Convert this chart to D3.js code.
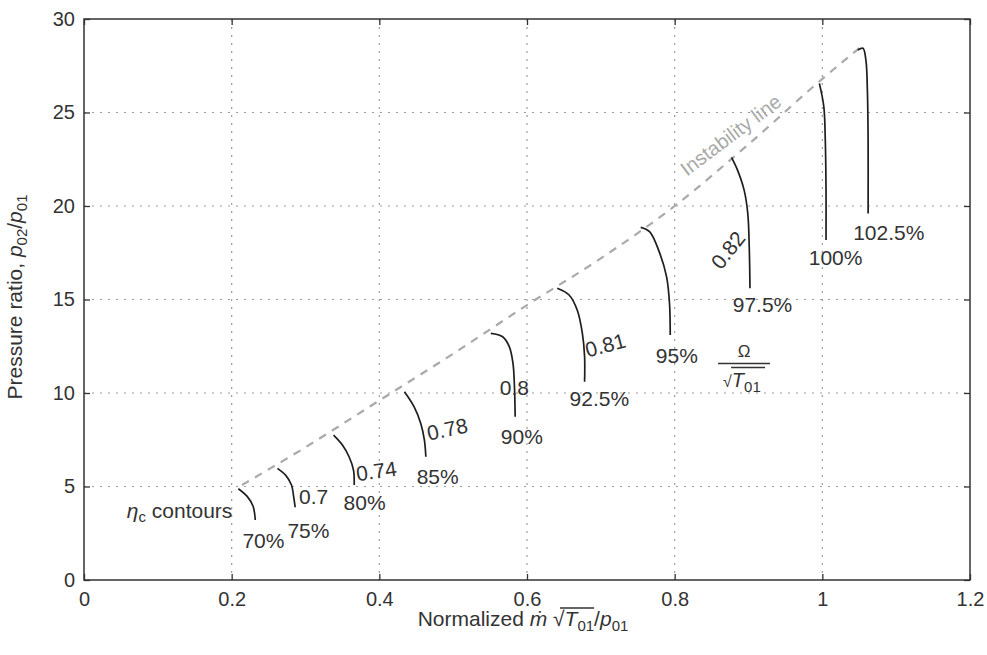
<!DOCTYPE html>
<html><head><meta charset="utf-8">
<script src="https://cdn.jsdelivr.net/npm/d3@7/dist/d3.min.js"></script>
<style>
body{margin:0;background:#fff}
svg{display:block}
text{font-family:"Liberation Sans",Arial,Helvetica,sans-serif}
</style>
</head><body>
<svg id="chart" width="987" height="655"></svg>
<script>
// ---------- data ----------
const xTicks = [0, 0.2, 0.4, 0.6, 0.8, 1, 1.2];
const xTickLabels = ["0", "0.2", "0.4", "0.6", "0.8", "1", "1.2"];
const yTicks = [0, 5, 10, 15, 20, 25, 30];
const yTickLabels = ["0", "5", "10", "15", "20", "25", "30"];

// corrected speed lines (Omega / sqrt(T01)), points [mass flow, pressure ratio]
const speedNames = ["70%", "75%", "80%", "85%", "90%", "92.5%", "95%", "97.5%", "100%", "102.5%"];
const speed70  = [[0.209,4.88],[0.221,4.47],[0.229,3.94],[0.232,3.21]];
const speed75  = [[0.262,5.97],[0.273,5.61],[0.281,5.08],[0.284,4.45],[0.286,3.89]];
const speed80  = [[0.338,7.75],[0.350,7.22],[0.359,6.59],[0.365,5.88],[0.366,5.08]];
const speed85  = [[0.434,10.07],[0.447,9.27],[0.456,8.38],[0.461,7.49],[0.463,6.59]];
const speed90  = [[0.551,13.19],[0.567,13.01],[0.576,12.48],[0.581,11.59],[0.583,10.34],[0.584,8.73]];
const speed925 = [[0.641,15.60],[0.657,15.24],[0.668,14.44],[0.675,13.19],[0.678,11.95],[0.678,10.60]];
const speed95  = [[0.754,18.86],[0.766,18.63],[0.779,17.56],[0.789,16.22],[0.793,14.80],[0.794,13.10]];
const speed975 = [[0.877,22.60],[0.885,21.93],[0.894,20.86],[0.899,19.61],[0.901,17.82],[0.902,15.60]];
const speed100 = [[0.996,26.56],[1.002,25.31],[1.004,23.53],[1.005,20.86],[1.005,18.18]];
const speed1025= [[1.048,28.34],[1.055,28.43],[1.059,27.80],[1.061,26.20],[1.062,23.53],[1.062,19.60]];
const speedLines = [speed70, speed75, speed80, speed85, speed90, speed925, speed95, speed975, speed100, speed1025];
const speedLabelAt = [[0.243,2.09],[0.304,2.67],[0.380,4.17],[0.479,5.51],[0.593,7.65],[0.698,9.68],[0.803,12.03],[0.919,14.71],[1.018,17.22],[1.090,18.56]];

// efficiency contour values
const effNames = ["0.7", "0.74", "0.78", "0.8", "0.81", "0.82"];
const effLabelAt = [[0.311,4.44],[0.396,5.83],[0.492,8.07],[0.583,10.27],[0.706,12.57],[0.872,17.65]];
const effAngle = [0, -8, -12, 0, -15, -52];

// instability (surge) line
const instX = [0.214, 0.3, 0.4, 0.5, 0.6, 0.7, 0.8, 0.9, 1.0, 1.055];
const instY = [5.08, 7.1, 9.6, 12.1, 14.7, 17.2, 20.0, 23.3, 26.8, 28.6];

// ---------- chart ----------
const W = 987, H = 655;
const svg = d3.select("#chart");
const x = d3.scaleLinear().domain([0, 1.2]).range([84, 970]);
const y = d3.scaleLinear().domain([0, 30]).range([580, 19]);
const ink = "#333";

// grid
const grid = svg.append("g").attr("stroke", "#9c9c9c").attr("stroke-width", 1.2).attr("stroke-dasharray", "2,6");
grid.selectAll(".gx").data(xTicks.slice(1, -1)).join("line")
  .attr("x1", d => x(d)).attr("x2", d => x(d)).attr("y1", y(30)).attr("y2", y(0));
grid.selectAll(".gy").data(yTicks.slice(1, -1)).join("line")
  .attr("x1", x(0)).attr("x2", x(1.2)).attr("y1", d => y(d)).attr("y2", d => y(d));

// axes
function styleAxis(g) {
  g.selectAll(".domain").remove();
  g.selectAll(".tick line").attr("stroke", ink).attr("stroke-width", 1.3);
  g.selectAll(".tick text").attr("fill", ink).attr("font-size", 20)
    .attr("font-family", '"Liberation Sans",Arial,sans-serif');
}
svg.append("g").attr("transform", `translate(0,${y(0)})`)
  .call(d3.axisBottom(x).tickValues(xTicks).tickSize(-6).tickSizeOuter(0).tickPadding(12)
    .tickFormat((d, i) => xTickLabels[i])).call(styleAxis);
svg.append("g").attr("transform", `translate(${x(0)},0)`)
  .call(d3.axisLeft(y).tickValues(yTicks).tickSize(-6).tickSizeOuter(0).tickPadding(9)
    .tickFormat((d, i) => yTickLabels[i])).call(styleAxis);
svg.append("g").attr("transform", `translate(0,${y(30)})`)
  .call(d3.axisTop(x).tickValues(xTicks).tickSize(-6).tickSizeOuter(0).tickFormat("")).call(styleAxis);
svg.append("g").attr("transform", `translate(${x(1.2)},0)`)
  .call(d3.axisRight(y).tickValues(yTicks).tickSize(-6).tickSizeOuter(0).tickFormat("")).call(styleAxis);

svg.append("rect").attr("x", x(0)).attr("y", y(30))
  .attr("width", x(1.2) - x(0)).attr("height", y(0) - y(30))
  .attr("fill", "none").attr("stroke", ink).attr("stroke-width", 1.5);

// instability line
const line = d3.line().x(d => x(d[0])).y(d => y(d[1]));
svg.append("path").datum(instX.map((v, i) => [v, instY[i]]))
  .attr("d", line.curve(d3.curveMonotoneX))
  .attr("fill", "none").attr("stroke", "#aaa").attr("stroke-width", 2.2)
  .attr("stroke-dasharray", "8,7");

// speed lines
const curveLine = d3.line().x(d => x(d[0])).y(d => y(d[1])).curve(d3.curveCatmullRom.alpha(0.5));
svg.append("g").selectAll("path").data(speedLines).join("path")
  .attr("d", curveLine).attr("fill", "none").attr("stroke", "#1e1e1e").attr("stroke-width", 1.7);

// speed labels
svg.append("g").selectAll("text").data(speedNames).join("text")
  .attr("x", (d, i) => x(speedLabelAt[i][0])).attr("y", (d, i) => y(speedLabelAt[i][1]))
  .attr("text-anchor", "middle").attr("dominant-baseline", "central")
  .attr("font-size", 21).attr("fill", ink).text(d => d);

// efficiency labels
svg.append("g").selectAll("text").data(effNames).join("text")
  .attr("transform", (d, i) => `translate(${x(effLabelAt[i][0])},${y(effLabelAt[i][1])}) rotate(${effAngle[i]})`)
  .attr("text-anchor", "middle").attr("dominant-baseline", "central")
  .attr("font-size", 21).attr("fill", ink).text(d => d);

// instability label
svg.append("text")
  .attr("transform", `translate(${x(0.876)},${y(23.8)}) rotate(-37)`)
  .attr("text-anchor", "middle").attr("dominant-baseline", "central")
  .attr("font-size", 20).attr("fill", "#aaa").text("Instability line");

// eta_c contours label
const eta = svg.append("text").attr("x", x(0.058)).attr("y", y(3.32))
  .attr("font-size", 21).attr("fill", ink);
eta.append("tspan").attr("font-style", "italic").text("η");
eta.append("tspan").attr("font-size", 15).attr("dy", 4).text("c");
eta.append("tspan").attr("dy", -4).text(" contours");

// Omega / sqrt(T01) fraction
const fr = svg.append("g").attr("transform", `translate(${x(0.894)},${y(11.9)})`);
fr.append("text").attr("text-anchor", "middle").attr("font-size", 17)
  .attr("font-family", '"Liberation Serif",serif').attr("fill", ink).text("Ω");
fr.append("line").attr("x1", -26).attr("x2", 26).attr("y1", 6).attr("y2", 6)
  .attr("stroke", ink).attr("stroke-width", 1.6);
const fb = fr.append("text").attr("x", -21).attr("y", 30).attr("font-size", 20).attr("fill", ink);
fb.append("tspan").attr("font-size", 16).text("√");
fb.append("tspan").attr("font-style", "italic").text("T");
fb.append("tspan").attr("font-size", 15).attr("dy", 5).text("01");
fr.append("line").attr("x1", -13).attr("x2", 21).attr("y1", 10).attr("y2", 10)
  .attr("stroke", ink).attr("stroke-width", 1.4);

// axis titles
const xl = svg.append("text").attr("x", 523).attr("y", 626).attr("text-anchor", "middle")
  .attr("font-size", 21).attr("fill", ink);
xl.append("tspan").text("Normalized ");
xl.append("tspan").attr("font-style", "italic").text("ṁ");
xl.append("tspan").text(" √");
xl.append("tspan").attr("class", "ov").attr("font-style", "italic").text("T");
xl.append("tspan").attr("class", "ov").attr("font-size", 15).attr("dy", 5).text("01");
xl.append("tspan").attr("dy", -5).text("/");
xl.append("tspan").attr("font-style", "italic").text("p");
xl.append("tspan").attr("font-size", 15).attr("dy", 5).text("01");
// overline over T01 in x title
(function () {
  const node = xl.node();
  const txt = node.textContent;
  const iT = txt.indexOf("T");
  const a = node.getExtentOfChar(iT - 1), b = node.getExtentOfChar(iT + 2);
  svg.append("line").attr("x1", a.x + a.width * 0.6).attr("x2", b.x + b.width)
    .attr("y1", a.y + 1).attr("y2", a.y + 1).attr("stroke", ink).attr("stroke-width", 1.3);
})();

const yl = svg.append("text").attr("transform", "translate(22,297) rotate(-90)")
  .attr("text-anchor", "middle").attr("font-size", 21).attr("fill", ink);
yl.append("tspan").text("Pressure ratio, ");
yl.append("tspan").attr("font-style", "italic").text("p");
yl.append("tspan").attr("font-size", 15).attr("dy", 5).text("02");
yl.append("tspan").attr("dy", -5).text("/");
yl.append("tspan").attr("font-style", "italic").text("p");
yl.append("tspan").attr("font-size", 15).attr("dy", 5).text("01");
</script>
</body></html>
